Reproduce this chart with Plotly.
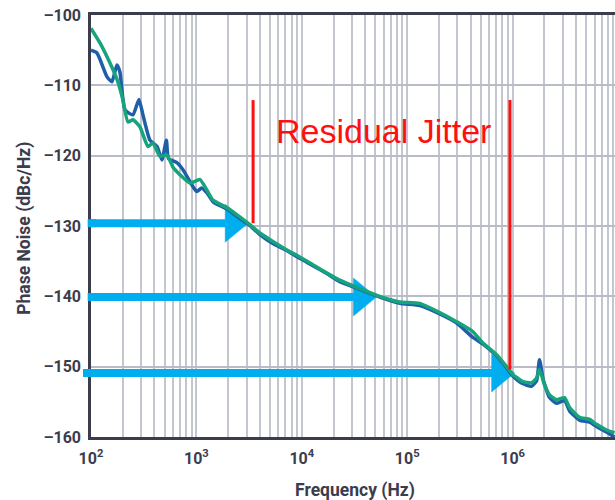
import math
import plotly.graph_objects as go

# ---------------- data ----------------
green_freq = [100, 122, 151, 180, 201, 224, 250, 291, 347, 387,
              451, 525, 598, 698, 867, 1080, 1260, 1430, 1950, 2580,
              3210, 4000, 5310, 7210, 9570, 12700, 17300, 22900, 35500, 54800,
              84900, 131000, 203000, 294000, 418000, 520000, 705000, 877000, 1000000, 1110000,
              1240000, 1510000, 1690000, 1800000, 2010000, 2240000, 2610000, 3110000, 3470000, 4310000,
              5370000, 6250000, 7780000, 9270000]
green_db = [-101.9, -104.0, -106.8, -109.5, -112.1, -115.2, -114.9, -115.9, -118.7, -118.2,
            -120.1, -119.9, -121.6, -122.7, -123.9, -123.4, -124.9, -126.3, -127.4, -128.7,
            -129.8, -131.0, -132.2, -133.4, -134.4, -135.5, -136.7, -137.7, -138.9, -140.0,
            -140.8, -141.0, -142.3, -143.6, -145.0, -146.6, -148.3, -150.0, -151.1, -151.6,
            -152.1, -152.3, -151.6, -150.4, -152.6, -154.0, -154.7, -154.4, -155.8, -157.2,
            -157.5, -158.2, -159.0, -159.4]

blue_freq = [100, 114, 142, 158, 176, 188, 210, 250, 285, 311,
             362, 423, 471, 519, 543, 653, 745, 927, 1010, 1120,
             1260, 1450, 1950, 2570, 3210, 3980, 5310, 7240, 9550, 12600,
             17400, 22900, 35500, 55000, 85100, 132000, 204000, 295000, 417000, 525000,
             708000, 871000, 1000000, 1110000, 1240000, 1510000, 1690000, 1800000, 1950000, 2240000,
             2610000, 3110000, 3470000, 4310000, 5370000, 6250000, 7780000, 9270000]
blue_db = [-105.0, -105.4, -108.8, -109.5, -107.1, -108.1, -113.5, -114.2, -112.0, -114.2,
           -117.8, -118.7, -120.6, -117.8, -120.4, -121.0, -122.0, -124.4, -125.1, -124.6,
           -125.3, -126.6, -127.6, -128.9, -129.9, -131.2, -132.5, -133.5, -134.6, -135.6,
           -136.8, -137.9, -139.0, -140.1, -141.0, -141.3, -142.5, -143.8, -145.8, -146.8,
           -148.5, -150.1, -151.3, -151.9, -152.4, -152.8, -152.0, -149.0, -151.8, -154.4,
           -155.2, -154.8, -156.3, -157.6, -157.9, -158.5, -159.3, -160.0]

x_tick_vals = [100, 1000, 10000, 100000, 1000000, 10000000]
x_tick_text = ["10<sup>2</sup>", "10<sup>3</sup>", "10<sup>4</sup>",
               "10<sup>5</sup>", "10<sup>6</sup>", "10<sup>7</sup>"]
y_tick_vals = [-160, -150, -140, -130, -120, -110, -100]
y_tick_text = ["\u2013160", "\u2013150", "\u2013140", "\u2013130", "\u2013120", "\u2013110", "\u2013100"]

# annotation marks
arrow_level_db = [-129.6, -140.1, -150.9]
arrow_start_hz = [93, 93, 84]
arrow_tip_hz = [3100, 51000, 1045000]
red_line_hz = [3450, 944000]
red_line_top_db = [-112.1, -112.1]
red_line_bottom_db = [-129.6, -150.4]
label_text = "Residual Jitter"

# ---------------- layout geometry ----------------
W, H = 615, 500
ML, MR, MT, MB = 91, 0, 15, 62.5
PX_PER_DECADE = 105.4
X_LOG_MIN = 2.0
X_LOG_MAX = 2.0 + (W - ML - MR) / PX_PER_DECADE
plot_w = W - ML - MR
plot_h = H - MT - MB
PX_PER_DB = plot_h / 60.0


def xpaper(hz):
    return (math.log10(hz) - X_LOG_MIN) / (X_LOG_MAX - X_LOG_MIN)


AXIS_COLOR = "#3b3c4c"
GRID_COLOR = "#c3c6cf"
ARROW_COLOR = "#00aeef"
RED = "#ff1010"

fig = go.Figure()

# arrows (drawn under the curves, over the grid)
head_len_dec = 23 / PX_PER_DECADE
head_half_db = 19 / PX_PER_DB
shapes = []
for lvl, s, t in zip(arrow_level_db, arrow_start_hz, arrow_tip_hz):
    base = 10 ** (math.log10(t) - head_len_dec)
    fig.add_trace(go.Scatter(x=[s, base * 1.01], y=[lvl, lvl], mode="lines",
                             line=dict(color=ARROW_COLOR, width=8),
                             showlegend=False, hoverinfo="skip"))
    fig.add_trace(go.Scatter(x=[base, t, base, base], y=[lvl + head_half_db, lvl, lvl - head_half_db, lvl + head_half_db],
                             mode="lines", fill="toself", fillcolor=ARROW_COLOR,
                             line=dict(color=ARROW_COLOR, width=0.5),
                             showlegend=False, hoverinfo="skip"))
    # small part of the shaft that sticks out left of the axis
    shapes.append(dict(type="line", xref="paper", yref="y", x0=xpaper(s), x1=0.01,
                       y0=lvl, y1=lvl, line=dict(color=ARROW_COLOR, width=8), layer="above"))

fig.add_trace(go.Scatter(x=blue_freq, y=blue_db, mode="lines",
                         line=dict(color="#1f5ea8", width=3.5, shape="spline", smoothing=0.5),
                         showlegend=False, hoverinfo="skip"))
fig.add_trace(go.Scatter(x=green_freq, y=green_db, mode="lines",
                         line=dict(color="#17a37c", width=3.5, shape="spline", smoothing=0.5),
                         showlegend=False, hoverinfo="skip"))

minor_vals = [m * 10 ** d for d in range(2, 7) for m in range(2, 10)]

for hz, top, bot in zip(red_line_hz, red_line_top_db, red_line_bottom_db):
    shapes.append(dict(type="line", xref="paper", yref="y", x0=xpaper(hz), x1=xpaper(hz),
                       y0=top, y1=bot, line=dict(color=RED, width=3), layer="above"))

tick_font = dict(family="Roboto, Arial, sans-serif", size=16, color=AXIS_COLOR, weight="bold")
title_font = dict(family="Roboto, Arial, sans-serif", size=17.5, color=AXIS_COLOR, weight="bold")

fig.update_layout(
    width=W, height=H,
    margin=dict(l=ML, r=MR, t=MT, b=MB),
    paper_bgcolor="white", plot_bgcolor="white",
    shapes=shapes,
    xaxis=dict(type="log", range=[X_LOG_MIN, X_LOG_MAX],
               tickmode="array", tickvals=x_tick_vals, ticktext=x_tick_text,
               showgrid=True, gridcolor=GRID_COLOR, gridwidth=1.5,
               minor=dict(tickmode="array", tickvals=minor_vals, showgrid=True,
                          gridcolor=GRID_COLOR, gridwidth=1.5, ticks=""),
               showline=True, linecolor=AXIS_COLOR, linewidth=2.5, mirror=True,
               ticks="", ticklabelstandoff=5, tickfont=tick_font, zeroline=False),
    yaxis=dict(range=[-160, -100], tickmode="array", tickvals=y_tick_vals, ticktext=y_tick_text,
               showgrid=True, gridcolor="#b9bcc6", gridwidth=2,
               showline=True, linecolor=AXIS_COLOR, linewidth=2.5,
               ticks="", ticklabelstandoff=4, tickfont=tick_font, zeroline=False),
    annotations=[
        dict(text=label_text, xref="paper", yref="y", x=(383 - ML) / plot_w, y=-116.5,
             showarrow=False, xanchor="center", yanchor="middle",
             font=dict(family="Arial, Liberation Sans, sans-serif", size=34, color=RED)),
        dict(text="Frequency (Hz)", xref="paper", yref="paper",
             x=(354.5 - ML) / plot_w, y=(437.5 - 491.5) / plot_h,
             showarrow=False, xanchor="center", yanchor="middle", font=title_font),
        dict(text="Phase Noise (dBc/Hz)", xref="paper", yref="paper",
             x=(25 - ML) / plot_w, y=(437.5 - 229) / plot_h, textangle=-90,
             showarrow=False, xanchor="center", yanchor="middle", font=title_font),
    ],
)

fig.write_html("out.html")
